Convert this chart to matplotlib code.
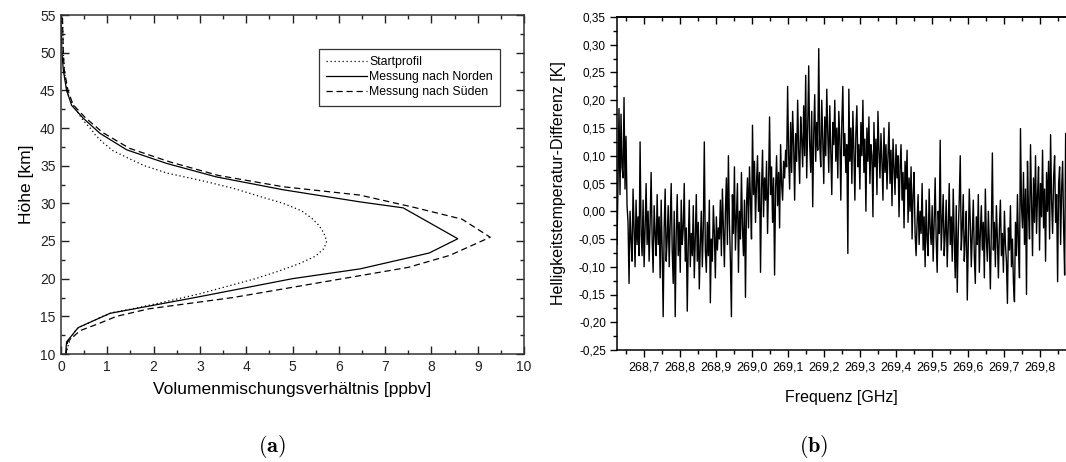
import numpy as np
import matplotlib
matplotlib.use("Agg")
import matplotlib.pyplot as plt
from matplotlib.ticker import MultipleLocator, FuncFormatter

plt.rcParams['font.family'] = ['Liberation Sans', 'DejaVu Sans']
plt.rcParams['mathtext.fontset'] = 'cm'

# ---- (a) ozone profiles: altitude [km] vs VMR [ppbv]
h_start = [10, 11, 12, 13, 13.5, 14, 15, 15.5, 16, 17, 18, 19, 20, 21, 22, 23, 24, 25,
           26, 27, 28, 29, 30, 31, 32, 33, 34, 35, 36, 37, 38, 39, 40, 41, 42, 43, 44,
           45, 46, 48, 50, 55]
vmr_start = [0.1, 0.15, 0.2, 0.3, 0.38, 0.55, 0.9, 1.1, 1.55, 2.3, 3.0, 3.6, 4.2, 4.7,
             5.15, 5.5, 5.68, 5.74, 5.68, 5.58, 5.42, 5.2, 4.8, 4.25, 3.72, 3.05, 2.3,
             1.8, 1.45, 1.12, 0.92, 0.75, 0.63, 0.48, 0.37, 0.27, 0.18, 0.13, 0.1, 0.07,
             0.05, 0.03]

h_nord = [10, 11.6, 13.5, 15.4, 17.5, 20, 21.3, 23.4, 25.3, 29.4, 30.2, 31.8, 33.5,
          35.3, 37.1, 39.3, 41.3, 43, 45, 47.7, 50, 55]
vmr_nord = [0.1, 0.12, 0.37, 1.06, 2.9, 5.0, 6.46, 7.95, 8.57, 7.39, 6.45, 4.8, 3.36,
            2.28, 1.42, 0.84, 0.48, 0.23, 0.12, 0.05, 0.02, 0.0]

h_sued = [10, 10.5, 11.6, 13.1, 14.0, 15.0, 16.0, 17.5, 20.4, 21.5, 23.1, 25.5, 27.9,
          29.5, 31.1, 32.2, 33.7, 35.5, 37.3, 39.4, 41.4, 43.1, 45, 47.7, 50, 55]
vmr_sued = [0.11, 0.12, 0.14, 0.41, 0.8, 1.2, 1.9, 3.72, 6.46, 7.5, 8.4, 9.27, 8.66,
            7.6, 6.45, 4.8, 3.4, 2.35, 1.48, 0.9, 0.52, 0.26, 0.15, 0.07, 0.05, 0.03]

# ---- (b) brightness temperature difference spectrum
freq_first = 268.624
freq_last = 269.870
dtb = [
    # 268.62 - 268.65
    -0.06, 0.05, 0.185, 0.03, 0.175, 0.08, 0.06, 0.205, 0.04, 0.135,
    0.01, -0.02, -0.13, 0.0, -0.05, -0.09, 0.04, -0.03, -0.1, 0.02, -0.06, -0.01, -0.08,
    # 268.69 - 268.82
    0.125, -0.04, -0.08, 0.02, -0.1, -0.03, 0.05, -0.06, 0.0, -0.09,
    -0.02, 0.07, -0.05, -0.11, 0.01, -0.04, -0.08, 0.03, -0.06, -0.01,
    -0.12, 0.02, -0.07, -0.19, -0.03, 0.04, -0.09, -0.05, 0.01, -0.1,
    -0.02, 0.05, -0.07, -0.13, 0.0, -0.19, -0.04, 0.03, -0.08, -0.02,
    -0.11, 0.02, -0.06, -0.03, 0.05, -0.09,
    # 268.82 - 268.91
    -0.03, -0.18, -0.06, 0.02, -0.1, -0.04, -0.08, 0.01, -0.12, -0.05,
    0.03, -0.09, -0.02, -0.14, -0.06, 0.0, -0.1, -0.03, 0.125, -0.07,
    -0.11, -0.02, -0.08, 0.02, -0.165, -0.05, -0.09, 0.01, -0.04, -0.12,
    -0.01, -0.07, -0.03,
    # 268.91 - 268.99
    -0.05, 0.02, -0.08, 0.04, -0.03, -0.1, 0.0, 0.06, -0.06, 0.1,
    -0.02, -0.09, -0.19, 0.03, -0.04, 0.08, -0.07, -0.01, 0.05, -0.11,
    0.0, -0.05, 0.07, -0.03, -0.08, 0.02, -0.155,
    # 268.99 - 269.10
    0.01, 0.06, -0.03, 0.08, 0.02, -0.05, 0.155, 0.03, 0.09, -0.02,
    0.05, 0.1, 0.0, 0.07, -0.11, 0.04, 0.11, -0.01, 0.06, 0.02,
    0.09, -0.04, 0.05, 0.17, 0.03, 0.08, -0.02, 0.06, -0.115, 0.04,
    0.1, 0.01, 0.07, -0.03, 0.12, 0.05, 0.02, 0.09, 0.06, 0.11,
    # 269.10 - 269.19
    0.08, 0.225, 0.1, 0.04, 0.16, 0.07, 0.18, 0.12, 0.02, 0.14,
    0.09, 0.2, 0.11, 0.05, 0.17, 0.13, 0.08, 0.19, 0.1, 0.245,
    0.06, 0.15, 0.262, 0.12, 0.07, 0.18, 0.008, 0.14, 0.21, 0.09,
    0.16, 0.11, 0.293,
    # 269.19 - 269.27
    0.12, 0.08, 0.2, 0.13, 0.05, 0.17, 0.1, 0.22, 0.14, 0.07,
    0.19, 0.11, 0.03, 0.16, 0.12, 0.2, 0.09, 0.15, 0.06, 0.18,
    0.13, 0.02, 0.16, 0.225, 0.1, 0.14, 0.07, 0.12, -0.076, 0.22,
    # 269.27 - 269.40
    0.09, 0.15, 0.05, 0.18, 0.11, 0.02, 0.14, 0.19, 0.08, 0.12,
    0.04, 0.16, 0.1, 0.2, 0.07, 0.13, 0.0, 0.15, 0.09, 0.17,
    0.05, 0.12, 0.1, -0.01, 0.16, 0.08, 0.13, 0.03, 0.18, 0.11,
    0.06, 0.14, 0.09, 0.02, 0.15, 0.07, 0.12, 0.04, 0.1, 0.16,
    0.05, 0.11, 0.01, 0.13, 0.08, 0.03, 0.12,
    # 269.40 - 269.46
    0.06, 0.1, -0.01, 0.08, 0.12, 0.02, 0.07, -0.03, 0.09, 0.04,
    0.11, -0.02, 0.06, 0.0, 0.08, -0.05, 0.03, 0.07, -0.04, -0.08,
    # 269.46 - 269.74
    -0.02, 0.03, -0.06, 0.0, -0.04, 0.05, -0.07, -0.01, -0.1, 0.02,
    -0.05, -0.08, 0.04, -0.03, -0.06, 0.01, -0.09, -0.02, 0.06, -0.05,
    -0.11, 0.0, -0.04, 0.128, -0.07, -0.02, 0.03, -0.08, -0.04, 0.02,
    -0.1, -0.03, 0.05, -0.06, -0.01, -0.09, 0.04, -0.05, -0.12, 0.01,
    -0.146, -0.04, 0.02, 0.1, -0.07, -0.03, 0.03, -0.09, -0.05, 0.0,
    -0.16, -0.06, 0.04, -0.02, -0.1, -0.04, 0.02, -0.08, -0.13, -0.01,
    -0.06, 0.03, -0.11, -0.04, 0.01, -0.07, -0.02, -0.12, 0.04, -0.05,
    -0.09, 0.0, -0.06, -0.14, -0.03, 0.105, -0.07, -0.02, -0.1, 0.01,
    -0.05, -0.12, -0.03, 0.02, -0.08, -0.04, -0.11, 0.0, -0.06, -0.09,
    -0.166, -0.03, -0.07, 0.01, -0.1, -0.05, -0.13, -0.163, -0.02, -0.08,
    0.03, -0.06, -0.12,
    # 269.74 - 269.87
    0.149, 0.01, -0.03, 0.07, -0.06, 0.04, -0.15, 0.09, 0.0, -0.05,
    0.12, 0.02, -0.08, 0.06, -0.02, 0.1, -0.04, 0.03, 0.08, -0.07,
    0.05, -0.01, 0.11, -0.03, 0.04, -0.09, 0.07, 0.0, 0.09, -0.05,
    0.138, 0.02, -0.04, 0.06, 0.1, -0.02, 0.03, -0.127, 0.05, 0.08,
    -0.06, 0.04, 0.09, -0.03, -0.115, 0.14,
]
freq = np.linspace(freq_first, freq_last, len(dtb))

fig = plt.figure(figsize=(10.66, 4.62), dpi=100)

# ---------------- left panel
ax1 = fig.add_axes([61/1066, 108/462, 463/1066, 339/462])
ax1.plot(vmr_start, h_start, color='black', lw=0.9, ls=(0, (1, 2.2)), label='Startprofil')
ax1.plot(vmr_nord, h_nord, color='black', lw=0.9, label='Messung nach Norden')
ax1.plot(vmr_sued, h_sued, color='black', lw=0.9, ls=(0, (5, 3)), label='Messung nach Süden')
ax1.set_xlim(0, 10)
ax1.set_ylim(10, 55)
ax1.xaxis.set_major_locator(MultipleLocator(1))
ax1.xaxis.set_minor_locator(MultipleLocator(0.5))
ax1.yaxis.set_major_locator(MultipleLocator(5))
ax1.yaxis.set_minor_locator(MultipleLocator(2.5))
ax1.tick_params(which='both', direction='in', top=True, right=True, width=1.0,
                labelsize=10, colors='#222222')
ax1.tick_params(which='major', length=5.5, pad=4)
ax1.tick_params(which='minor', length=3)
for s in ax1.spines.values():
    s.set_linewidth(1.1)
    s.set_color('#333333')
ax1.set_xlabel('Volumenmischungsverhältnis [ppbv]', fontsize=12.5, labelpad=6)
ax1.set_ylabel('Höhe [km]', fontsize=12.5, labelpad=4)
leg = ax1.legend(loc='upper right', bbox_to_anchor=(0.948, 0.90), fontsize=8.8,
                 frameon=True, fancybox=False, handlelength=3.3, handletextpad=0.2,
                 labelspacing=0.25, borderpad=0.6, borderaxespad=0)
leg.get_frame().set_edgecolor('black')
leg.get_frame().set_linewidth(0.9)

# ---------------- right panel
ax2 = fig.add_axes([617/1066, 112/462, 449/1066, 333/462])
ax2.plot(freq, dtb, color='black', lw=1.0)
ax2.set_xlim(freq_first, freq_last + 0.001)
ax2.set_ylim(-0.25, 0.35)
ax2.xaxis.set_major_locator(MultipleLocator(0.1))
ax2.xaxis.set_minor_locator(MultipleLocator(0.05))
ax2.yaxis.set_major_locator(MultipleLocator(0.05))
ax2.yaxis.set_minor_locator(MultipleLocator(0.025))
ax2.xaxis.set_major_formatter(FuncFormatter(lambda v, p: f"{v:.1f}".replace('.', ',')))
ax2.yaxis.set_major_formatter(
    FuncFormatter(lambda v, p: f"{round(v, 2) + 0.0:.2f}".replace('.', ',')))
ax2.spines['right'].set_visible(False)
for s in ['left', 'top', 'bottom']:
    ax2.spines[s].set_linewidth(1.1)
ax2.tick_params(which='both', direction='out', width=1.0)
ax2.tick_params(which='major', length=5, pad=3)
ax2.tick_params(which='minor', length=3)
ax2.tick_params(axis='x', labelsize=9)
ax2.tick_params(axis='y', labelsize=8.5)
# inward ticks along the top edge
sec = ax2.secondary_xaxis('top')
sec.xaxis.set_major_locator(MultipleLocator(0.1))
sec.xaxis.set_minor_locator(MultipleLocator(0.05))
sec.tick_params(which='both', direction='in', width=1.0, labeltop=False)
sec.tick_params(which='major', length=5)
sec.tick_params(which='minor', length=3)
sec.spines['top'].set_linewidth(1.1)
ax2.set_xlabel('Frequenz [GHz]', fontsize=11.5, labelpad=12)
ax2.set_ylabel('Helligkeitstemperatur-Differenz [K]', fontsize=11.5, labelpad=9)

# captions
fig.text(272/1066, 1 - 447/462, r'$\mathbf{(a)}$', fontsize=16, ha='center', va='center')
fig.text(814/1066, 1 - 447/462, r'$\mathbf{(b)}$', fontsize=16, ha='center', va='center')

fig.savefig('out.png', dpi=100)
